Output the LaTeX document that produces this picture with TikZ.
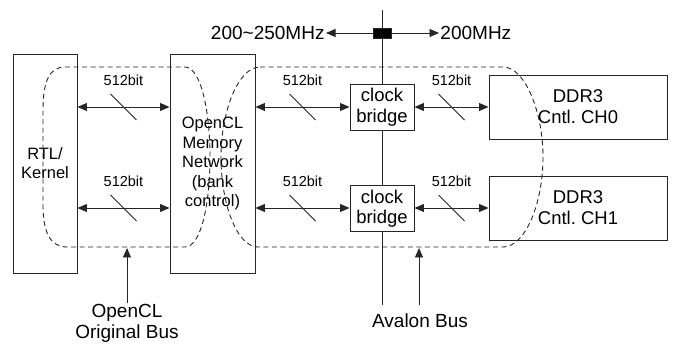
\documentclass[tikz,border=0pt]{standalone}
\usepackage{fontspec}
\setmainfont{Liberation Sans}
\usetikzlibrary{arrows.meta}
\begin{document}
\begin{tikzpicture}[x=1pt,y=-1pt,
  line width=0.95pt, draw=black!85,
  >={Triangle[length=9.5pt,width=8pt]},
  every node/.style={text=black},
  blk/.style={draw, rectangle, inner sep=0pt, align=center},
  bus/.style={<->},
  up/.style={->},
  lbl/.style={font=\fontsize{14.5}{16}\selectfont, inner sep=0pt},
  big/.style={font=\fontsize{19}{21}\selectfont},
  dsh/.style={dash pattern=on 5pt off 3.5pt, line width=0.9pt}
]
\useasboundingbox (0,0) rectangle (674,344);

% vertical avalon line
\coordinate (vtop) at (382,10);
\coordinate (vbot) at (382,305);
\draw (vtop) -- (vbot);

% boxes
\node[blk, minimum width=64, minimum height=219, font=\fontsize{16.5}{19}\selectfont] (rtl) at (45,163.5) {RTL/\\Kernel};
\node[blk, minimum width=85, minimum height=219, font=\fontsize{16.5}{19.5}\selectfont] (mem) at (212.5,163.5) {OpenCL\\Memory\\Network\\(bank\\control)};
\node[blk, fill=white, minimum width=64, minimum height=46, font=\fontsize{18.5}{20.5}\selectfont] (cb1) at (382,107) {clock\\bridge};
\node[blk, fill=white, minimum width=64, minimum height=46, font=\fontsize{18.5}{20.5}\selectfont] (cb2) at (382,208.5) {clock\\bridge};
\node[blk, minimum width=178, minimum height=64, font=\fontsize{18.5}{21}\selectfont] (dd0) at (578,107) {DDR3\\Cntl.\ CH0};
\node[blk, minimum width=178, minimum height=64, font=\fontsize{18.5}{21}\selectfont] (dd1) at (578,208) {DDR3\\Cntl.\ CH1};

% clock domain marker
\node[draw, fill=black, minimum width=18, minimum height=10, inner sep=0pt] (mk) at (382,33) {};
\node[big, anchor=east, inner sep=1pt] (f1) at (326,33) {200\textasciitilde250MHz};
\node[big, anchor=west, inner sep=1pt] (f2) at (439,33) {200MHz};
\draw[up] (mk.west) -- (f1.east);
\draw[up] (mk.east) -- (f2.west);

% buses with width marks
\foreach \a/\b/\yy/\n in {rtl/mem/107/a1, rtl/mem/208/a2, mem/cb1/107/b1, mem/cb2/208/b2, cb1/dd0/107/c1, cb2/dd1/208/c2}{
  \draw[bus] (\a.east |- 0,\yy) -- coordinate[midway] (m\n) (\b.west |- 0,\yy);
  \draw (m\n) ++(-13,-13) -- ++(26,26);
  \node[lbl] (l\n) at ([yshift=27pt]m\n) {512bit};
}

% dashed bus regions
\draw[dsh] (65,67) -- (185,67) .. controls (201,67) and (210,112) .. (210,157)
  .. controls (210,204) and (201,247) .. (185,247) -- (67,247)
  .. controls (50,247) and (43,232) .. (43,205) -- (43,110)
  .. controls (43,82) and (49,67) .. (65,67) -- cycle;
\draw[dsh] (260,67) -- (503,67) .. controls (525,67) and (543,112) .. (543,157)
  .. controls (543,204) and (525,247) .. (503,247) -- (258,247)
  .. controls (237,247) and (221,204) .. (221,157)
  .. controls (221,112) and (238,67) .. (260,67) -- cycle;

% bottom labels
\node[big, align=center, inner sep=1pt, anchor=north] (ob) at (127,303) {OpenCL\\Original Bus};
\coordinate (obt) at (127,248);
\draw[up] (ob.north) -- (obt);
\node[big, align=center, inner sep=1pt, anchor=north] (ab) at (420,312) {Avalon Bus};
\coordinate (abs) at (419,305);
\coordinate (abt) at (419,248);
\draw[up] (abs) -- (abt);
\end{tikzpicture}
\end{document}
